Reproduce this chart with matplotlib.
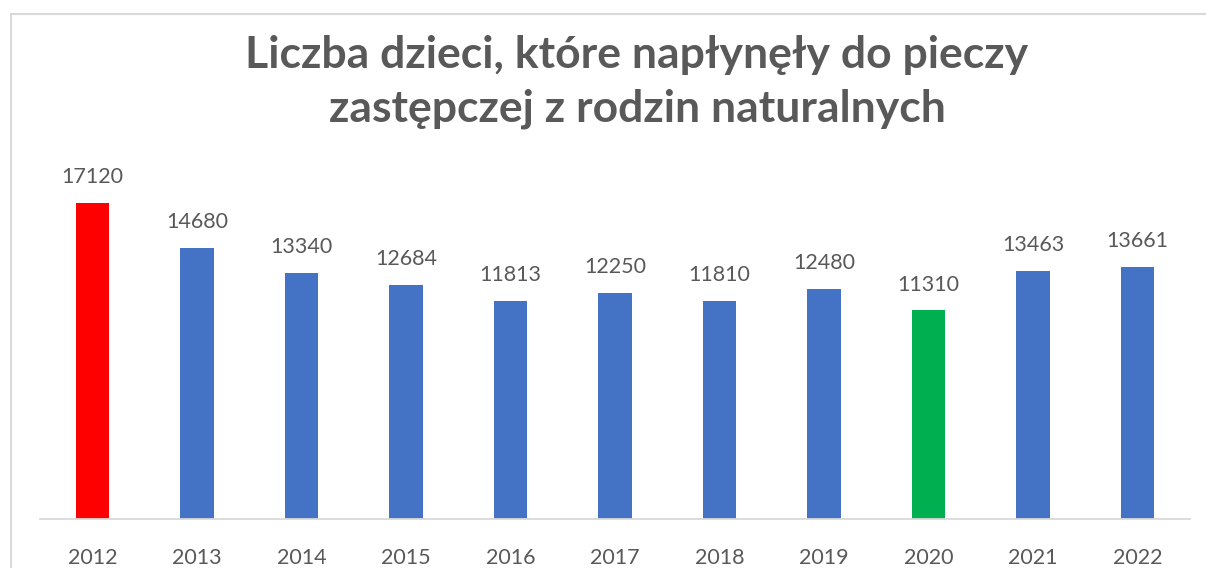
import matplotlib.pyplot as plt
from matplotlib.patches import Rectangle

lata = ['2012', '2013', '2014', '2015', '2016', '2017', '2018', '2019', '2020', '2021', '2022']
dzieci = [17120, 14680, 13340, 12684, 11813, 12250, 11810, 12480, 11310, 13463, 13661]
kolory = ['#FF0000'] + ['#4472C4'] * 7 + ['#00B050'] + ['#4472C4'] * 2

plt.rcParams['font.family'] = ['Lato', 'DejaVu Sans']
szary = '#595959'

fig = plt.figure(figsize=(12.06, 5.68), dpi=100)
ax = fig.add_axes([40 / 1206, 49 / 568, 1150 / 1206, 369 / 568])

# Słupki
x = range(len(lata))
ax.bar(x, dzieci, width=0.32, color=kolory)
ax.set_xlim(-0.5, len(lata) - 0.5)
ax.set_ylim(0, 20000)

# Etykiety danych
for xi, v in zip(x, dzieci):
    ax.annotate(str(v), (xi, v), xytext=(0, 18.5), textcoords='offset points',
                ha='center', va='center', fontsize=15.5, color=szary)

# Osie
ax.set_xticks(list(x))
ax.set_xticklabels(lata, fontsize=15.5, color=szary)
ax.tick_params(axis='x', length=0, pad=21)
ax.set_yticks([])
for s in ['top', 'right', 'left']:
    ax.spines[s].set_visible(False)
ax.spines['bottom'].set_color('#D9D9D9')
ax.spines['bottom'].set_linewidth(1.3)

# Tytuł
fig.text(637 / 1206, 1 - 82 / 568, 'Liczba dzieci, które napłynęły do pieczy\nzastępczej z rodzin naturalnych',
         ha='center', va='center', fontsize=32, fontweight='bold', color=szary, linespacing=1.4)

# Ramka wykresu
fig.patches.append(Rectangle((10.5 / 1206, -0.1), 1.2, 1.1 - 14.5 / 568, transform=fig.transFigure,
                             fill=False, edgecolor='#D9D9D9', linewidth=1.5))

plt.savefig('out.png', dpi=100)
